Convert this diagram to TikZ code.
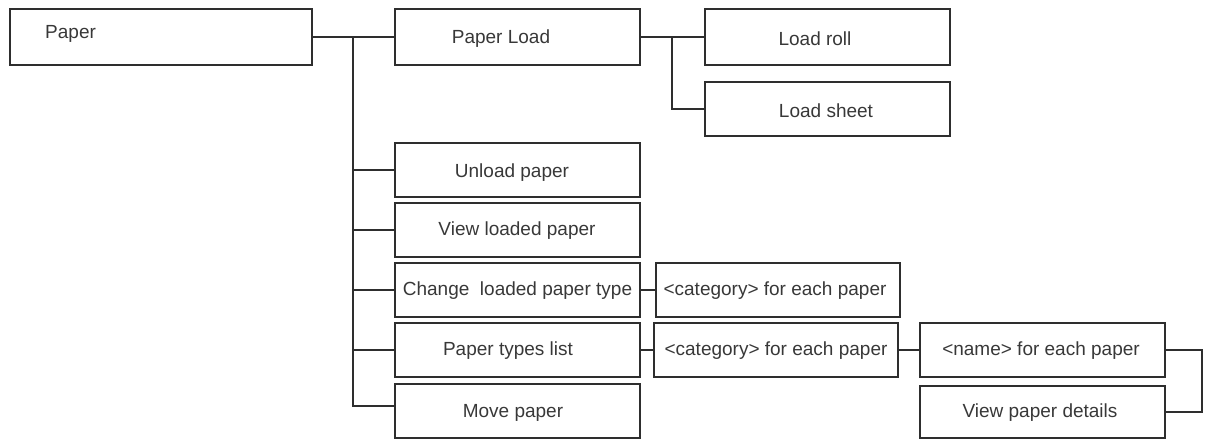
\documentclass[tikz,border=0pt]{standalone}
\usepackage{fontspec}
\setmainfont{Liberation Sans}
\begin{document}
\begin{tikzpicture}[x=1pt,y=-1pt,
  box/.style={draw=black!82,line width=2.6pt,minimum width=245pt,minimum height=55pt,inner sep=0pt,anchor=center},
  lbl/.style={text=black!78,font=\fontsize{19}{22}\selectfont,inner sep=0pt},
  conn/.style={draw=black!82,line width=2.6pt}]
\useasboundingbox (0,0) rectangle (1207,440);
% boxes
\node[box,minimum width=302pt,minimum height=56pt] (paper) at (161,37) {};
\node[box,minimum height=56pt] (pload) at (517.5,37) {};
\node[box,minimum height=56pt] (roll) at (827.5,37) {};
\node[box,minimum height=54pt] (sheet) at (827.5,109) {};
\node[box,minimum height=54pt] (unload) at (517.5,170) {};
\node[box,minimum height=54pt] (view) at (517.5,230) {};
\node[box,minimum height=54pt] (change) at (517.5,290) {};
\node[box,minimum height=54pt] (types) at (517.5,350) {};
\node[box,minimum height=54pt] (move) at (517.5,411) {};
\node[box,minimum width=244pt,minimum height=54pt] (cat1) at (778,290) {};
\node[box,minimum width=244pt,minimum height=54pt] (cat2) at (776,350) {};
\node[box,minimum height=54pt] (name) at (1042.5,350) {};
\node[box,minimum height=52pt] (details) at (1042.5,412) {};
% labels
\node[lbl,anchor=west] (tpaper) at (45,34) {Paper};
\node[lbl] (tpload) at (501,39) {Paper Load};
\node[lbl] (troll) at (815,39) {Load roll};
\node[lbl] (tsheet) at (826,111) {Load sheet};
\node[lbl] (tunload) at (512,173) {Unload paper};
\node[lbl] (tview) at (517,231) {View loaded paper};
\node[lbl] (tchange) at (517.5,291) {Change\ \ loaded paper type};
\node[lbl] (ttypes) at (508,351) {Paper types list};
\node[lbl] (tmove) at (513,413) {Move paper};
\node[lbl] (tcat1) at (775,291) {<category> for each paper};
\node[lbl] (tcat2) at (776,351) {<category> for each paper};
\node[lbl] (tname) at (1041,351) {<name> for each paper};
\node[lbl] (tdetails) at (1040,413) {View paper details};
% connectors
\coordinate (trunk) at (353,37);
\coordinate (fork) at (672,37);
\coordinate (rt) at (1202,350);
\draw[conn] (paper.east) -- (pload.west);
\draw[conn] (trunk) |- ([yshift=5pt]move.west);
\draw[conn] (trunk |- unload.west) -- (unload.west);
\draw[conn] (trunk |- view.west) -- (view.west);
\draw[conn] (trunk |- change.west) -- (change.west);
\draw[conn] (trunk |- types.west) -- (types.west);
\draw[conn] (pload.east) -- (roll.west);
\draw[conn] (fork) |- (sheet.west);
\draw[conn] (change.east) -- (cat1.west);
\draw[conn] (types.east) -- (cat2.west);
\draw[conn] (cat2.east) -- (name.west);
\draw[conn] (name.east) -- (rt) |- (details.east);
\end{tikzpicture}
\end{document}
